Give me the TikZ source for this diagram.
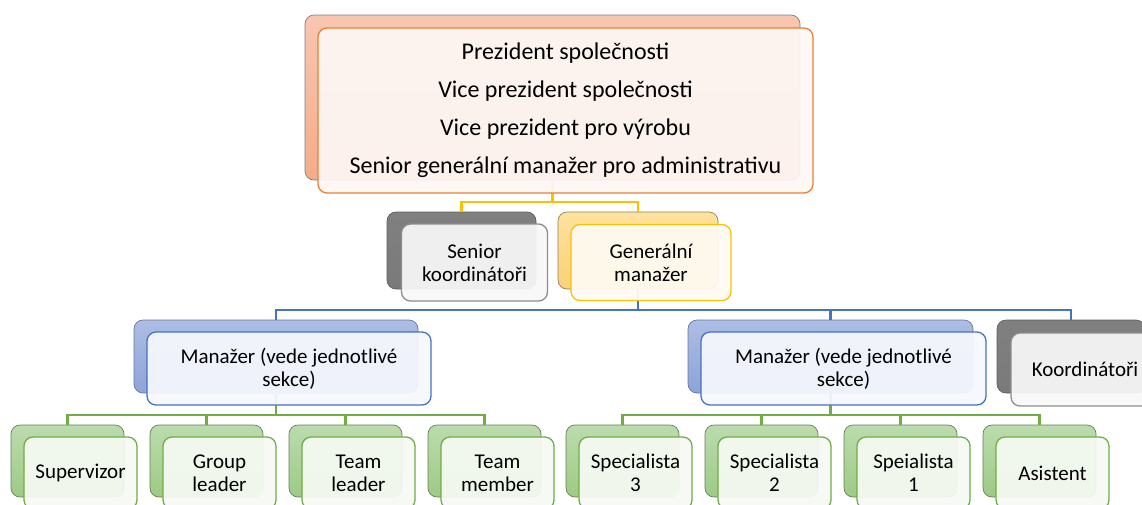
\documentclass[tikz,border=0pt]{standalone}
\usepackage{fontspec}
\setmainfont{Carlito}
\usetikzlibrary{calc}

% colour families: back top/bottom, back edge, front line, front fill
\definecolor{prestop}{HTML}{F8C6B0}
\definecolor{presbot}{HTML}{F4AC8A}
\definecolor{presedge}{HTML}{7F7F7F}
\definecolor{presline}{HTML}{ED7D31}
\definecolor{presfill}{HTML}{FDF7F4}
\definecolor{greytop}{HTML}{808080}
\definecolor{greybot}{HTML}{7A7A7A}
\definecolor{greyedge}{HTML}{5E5E5E}
\definecolor{greyline}{HTML}{8C8C8C}
\definecolor{greyfill}{HTML}{F8F8F8}
\definecolor{goldtop}{HTML}{FFE29F}
\definecolor{goldbot}{HTML}{FBD078}
\definecolor{goldedge}{HTML}{8C8060}
\definecolor{goldline}{HTML}{FFC000}
\definecolor{goldfill}{HTML}{FFFBF3}
\definecolor{bluetop}{HTML}{ADBDE4}
\definecolor{bluebot}{HTML}{8DA4D8}
\definecolor{blueedge}{HTML}{65769C}
\definecolor{blueline}{HTML}{4472C4}
\definecolor{bluefill}{HTML}{F6F8FD}
\definecolor{greentop}{HTML}{BCDBAE}
\definecolor{greenbot}{HTML}{9DCA84}
\definecolor{greenedge}{HTML}{647F58}
\definecolor{greenline}{HTML}{70AD47}
\definecolor{greenfill}{HTML}{F6FAF3}

\tikzset{
  back/.style={rectangle, rounded corners=9pt, inner sep=0pt, outer sep=0pt,
    draw=#1edge, line width=0.7pt, top color=#1top, bottom color=#1bot},
  front/.style={rectangle, rounded corners=9pt, inner sep=0pt, outer sep=0pt,
    draw=#1line, line width=1.3pt, fill=#1fill, fill opacity=0.93,
    text opacity=1, align=center, font=\fontsize{21}{23}\selectfont},
  link/.style={draw=#1line, line width=2.6pt},
  lvl/.style={minimum width=113pt, minimum height=72pt},
}

\begin{document}
\begin{tikzpicture}[x=1pt, y=-1pt]
  \useasboundingbox (0,0) rectangle (1142,504);
  \clip (0,0) rectangle (1142,504);

  % back shapes
  \node[back=pres, minimum width=495pt, minimum height=165pt] (pres-b) at (552.5,97.5) {};
  \node[back=grey, minimum width=149pt, minimum height=77pt] (skoor-b) at (461.5,250.5) {};
  \node[back=gold, minimum width=160pt, minimum height=77pt] (genm-b) at (638,250.5) {};
  \node[back=blue, minimum width=284pt, minimum height=73pt] (mgrA-b) at (276,356.5) {};
  \node[back=blue, minimum width=285pt, minimum height=73pt] (mgrB-b) at (830.5,356.5) {};
  \node[back=grey, minimum width=148pt, minimum height=73pt] (koor-b) at (1071,356.5) {};
  \foreach \nm/\cx in {sup/67.5, grp/206.5, tl/345.5, tm/484.5,
                       sp3/622.5, sp2/761.5, sp1/900.5, asi/1039.5}
    {\node[back=green, lvl] (\nm-b) at (\cx,461) {};}

  % connectors
  \draw[link=gold] (pres-b.south) |- ([yshift=10pt]skoor-b.north) -- (skoor-b.north);
  \draw[link=gold] (pres-b.south) |- ([yshift=10pt]genm-b.north) -- (genm-b.north);
  \foreach \nm in {mgrA, mgrB, koor}
    {\draw[link=blue] (genm-b.south) |- ([yshift=10pt]\nm-b.north) -- (\nm-b.north);}
  \foreach \nm in {sup, grp, tl, tm}
    {\draw[link=green] (mgrA-b.south) |- ([yshift=10pt]\nm-b.north) -- (\nm-b.north);}
  \foreach \nm in {sp3, sp2, sp1, asi}
    {\draw[link=green] (mgrB-b.south) |- ([yshift=10pt]\nm-b.north) -- (\nm-b.north);}

  % front shapes with the texts
  \node[front=pres, minimum width=495pt, minimum height=165pt,
        font=\fontsize{24}{38}\selectfont] (pres) at ([xshift=13pt,yshift=-13pt]pres-b)
    {Prezident společnosti\\Vice prezident společnosti\\Vice prezident pro výrobu\\Senior generální manažer pro administrativu};
  \node[front=grey, minimum width=146pt, minimum height=77pt] (skoor) at ([xshift=13pt,yshift=-12pt]skoor-b) {Senior\\koordinátoři};
  \node[front=gold, minimum width=160pt, minimum height=76pt] (genm) at ([xshift=13pt,yshift=-12pt]genm-b) {Generální\\manažer};
  \node[front=blue, minimum width=284pt, minimum height=73pt] (mgrA) at ([xshift=13pt,yshift=-12pt]mgrA-b) {Manažer (vede jednotlivé\\sekce)};
  \node[front=blue, minimum width=285pt, minimum height=73pt] (mgrB) at ([xshift=13pt,yshift=-12pt]mgrB-b) {Manažer (vede jednotlivé\\sekce)};
  \node[front=grey, minimum width=148pt, minimum height=73pt] (koor) at ([xshift=14pt,yshift=-13pt]koor-b) {Koordinátoři};
  \foreach \nm/\txt in {sup/Supervizor, grp/{Group\\leader}, tl/{Team\\leader}, tm/{Team\\member},
                        sp3/{Specialista\\3}, sp2/{Specialista\\2}, sp1/{Speialista\\1}, asi/Asistent}
    {\node[front=green, lvl] (\nm) at ([xshift=13pt,yshift=-12pt]\nm-b) {\txt};}
\end{tikzpicture}
\end{document}
